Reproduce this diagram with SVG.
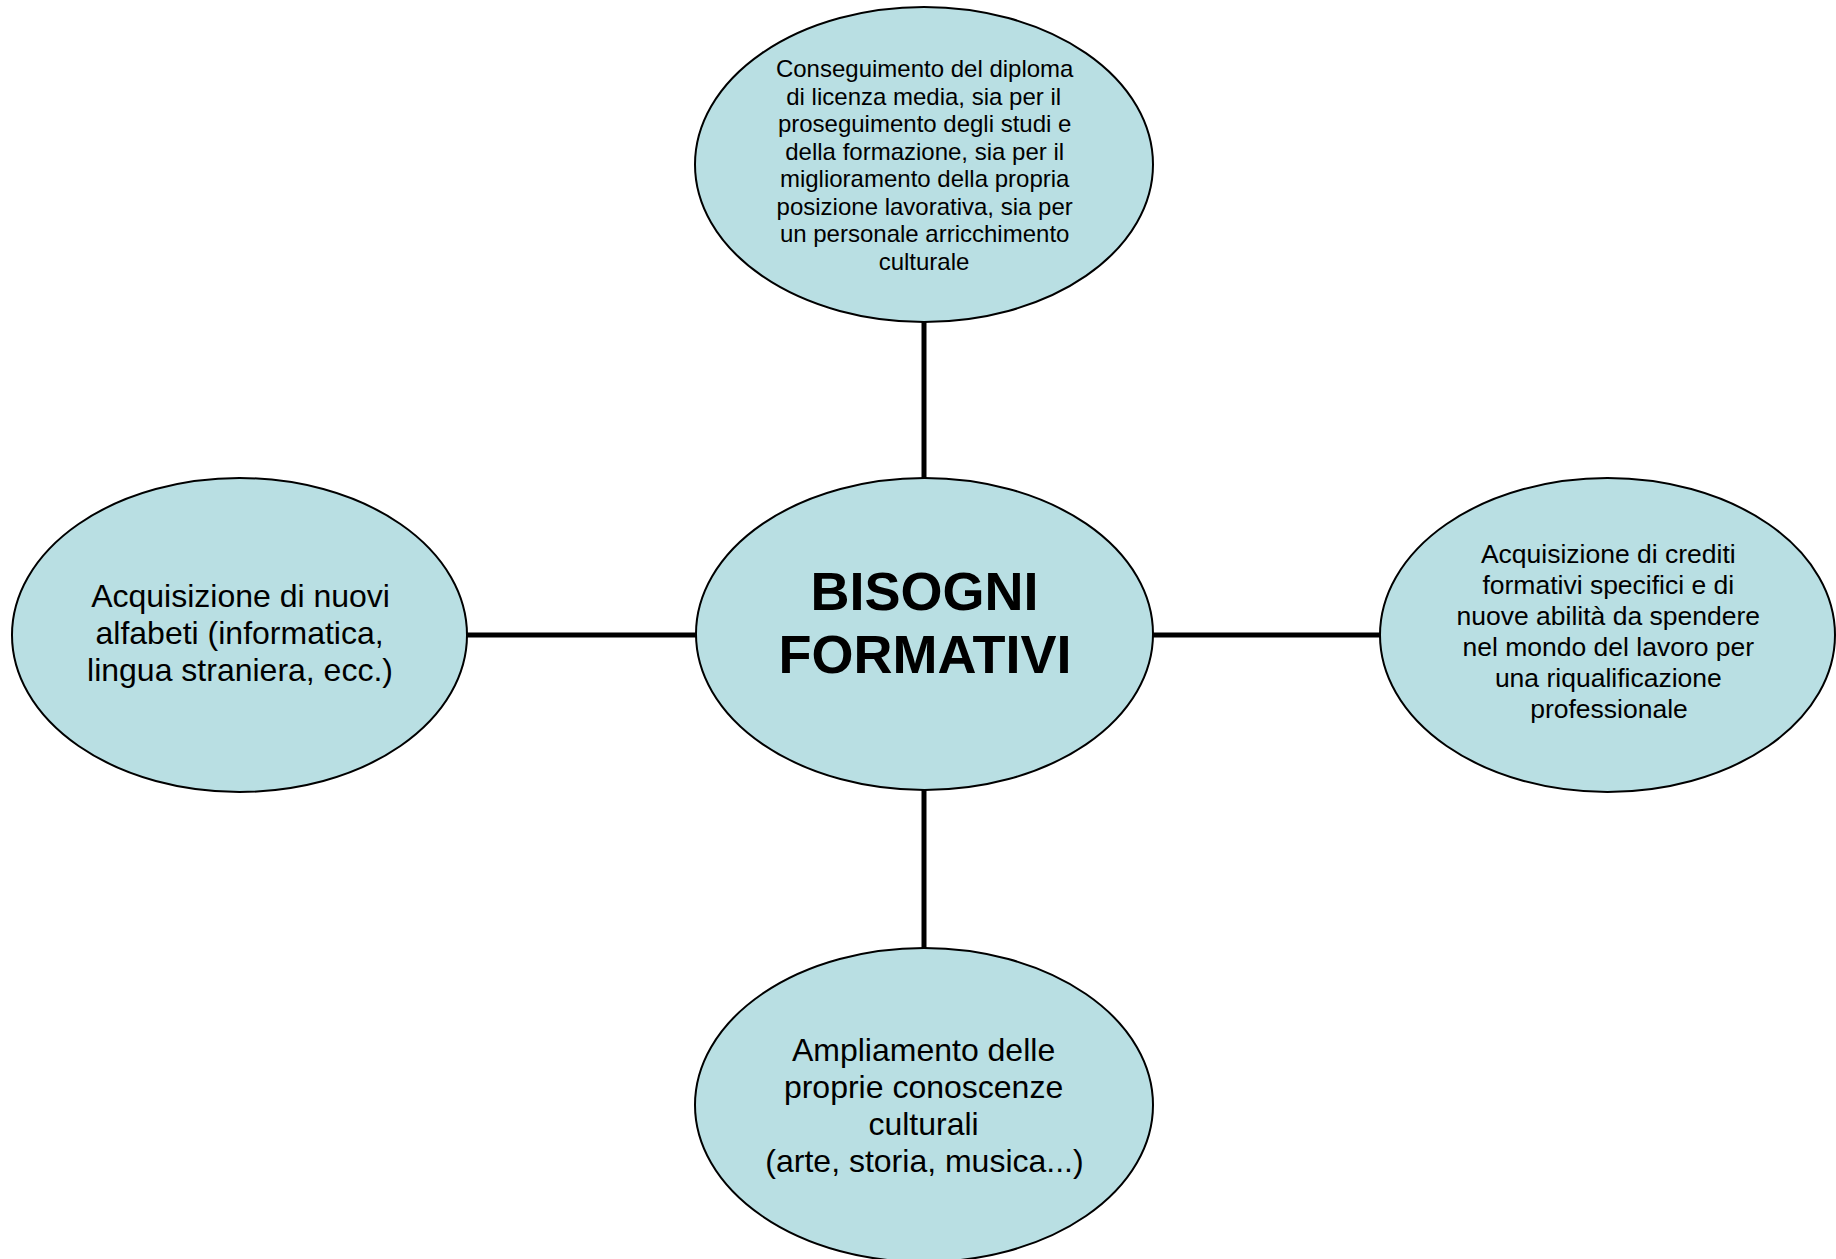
<svg xmlns="http://www.w3.org/2000/svg" width="1836" height="1259" viewBox="0 0 1836 1259">
<style>
.node{fill:#B9DFE3;stroke:#000;stroke-width:2}
.conn{stroke:#000;stroke-width:5;fill:none}
text{font-family:"Liberation Sans",Arial,sans-serif;fill:#000;text-anchor:middle}
.s24{font-size:24px}
.s26{font-size:26.5px}
.s32{font-size:32px}
.title{font-size:54px;font-weight:bold}
</style>
<rect width="1836" height="1259" fill="#fff"/>
<g id="connectors">
<line class="conn" x1="924" y1="322" x2="924" y2="478"/>
<line class="conn" x1="924" y1="790" x2="924" y2="948"/>
<line class="conn" x1="467" y1="635" x2="696" y2="635"/>
<line class="conn" x1="1153" y1="635" x2="1380" y2="635"/>
</g>
<g id="top">
<ellipse class="node" cx="924" cy="164.5" rx="229" ry="157.5"/>
<text class="s24">
<tspan x="928" y="77">Conseguimento del diploma</tspan>
<tspan x="927" y="104.5">di licenza media, sia per il</tspan>
<tspan x="928" y="132">proseguimento degli studi e</tspan>
<tspan x="928" y="159.5">della formazione, sia per il</tspan>
<tspan x="928" y="187">miglioramento della propria</tspan>
<tspan x="928" y="214.5">posizione lavorativa, sia per</tspan>
<tspan x="928" y="242">un personale arricchimento</tspan>
<tspan x="924" y="269.5">culturale</tspan>
</text>
</g>
<g id="center">
<ellipse class="node" cx="924.5" cy="634" rx="228.5" ry="156"/>
<text class="title">
<tspan x="932" y="610">BISOGNI</tspan>
<tspan x="925" y="673">FORMATIVI</tspan>
</text>
</g>
<g id="left">
<ellipse class="node" cx="239.5" cy="635" rx="227.5" ry="157"/>
<text class="s32">
<tspan x="245" y="607">Acquisizione di nuovi</tspan>
<tspan x="244" y="644">alfabeti (informatica,</tspan>
<tspan x="240" y="681">lingua straniera, ecc.)</tspan>
</text>
</g>
<g id="right">
<ellipse class="node" cx="1607.5" cy="635" rx="227.5" ry="157"/>
<text class="s26">
<tspan x="1612" y="563">Acquisizione di crediti</tspan>
<tspan x="1612" y="594">formativi specifici e di</tspan>
<tspan x="1612" y="625">nuove abilità da spendere</tspan>
<tspan x="1612" y="656">nel mondo del lavoro per</tspan>
<tspan x="1612" y="687">una riqualificazione</tspan>
<tspan x="1609" y="718">professionale</tspan>
</text>
</g>
<g id="bottom">
<ellipse class="node" cx="924" cy="1105" rx="229" ry="157"/>
<text class="s32">
<tspan x="928" y="1061">Ampliamento delle</tspan>
<tspan x="928" y="1098">proprie conoscenze</tspan>
<tspan x="928" y="1135">culturali</tspan>
<tspan x="924.5" y="1172">(arte, storia, musica...)</tspan>
</text>
</g>
</svg>
